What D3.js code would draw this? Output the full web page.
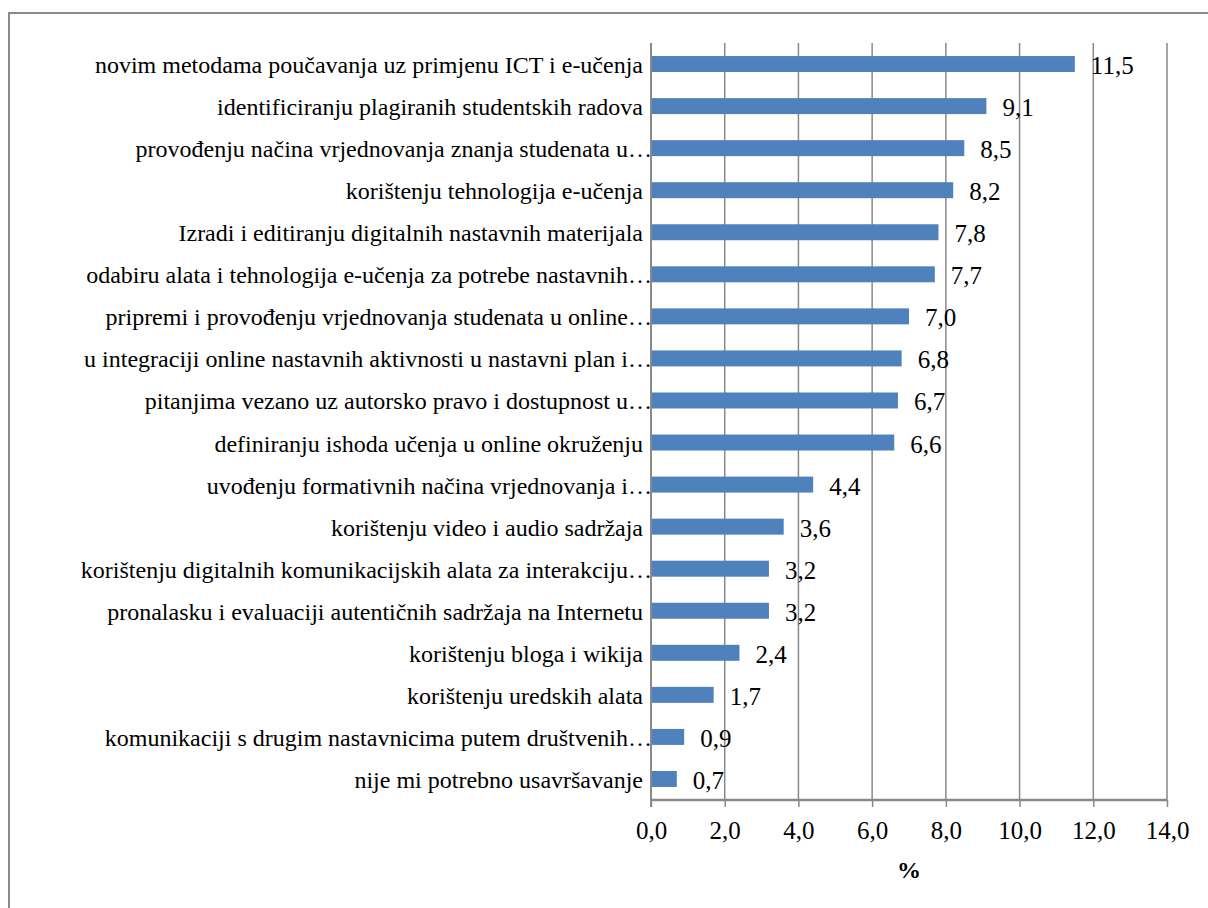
<!DOCTYPE html>
<html>
<head>
<meta charset="utf-8">
<script src="https://cdn.jsdelivr.net/npm/d3@7"></script>
<style>
  body { margin: 0; background: #fff; }
  #chart text { font-family: 'Liberation Serif' !important; }
</style>
</head>
<body>
<svg id="chart" width="1208" height="908"></svg>
<script>
// Areas in which teachers would like further training, % of responses
const categories = [
  "novim metodama poučavanja uz primjenu ICT i e-učenja",
  "identificiranju plagiranih studentskih radova",
  "provođenju načina vrjednovanja znanja studenata u…",
  "korištenju tehnologija e-učenja",
  "Izradi i editiranju digitalnih nastavnih materijala",
  "odabiru alata i tehnologija e-učenja za potrebe nastavnih…",
  "pripremi i provođenju vrjednovanja studenata u online…",
  "u integraciji online nastavnih aktivnosti u nastavni plan i…",
  "pitanjima vezano uz autorsko pravo i dostupnost u…",
  "definiranju ishoda učenja u online okruženju",
  "uvođenju formativnih načina vrjednovanja i…",
  "korištenju video i audio sadržaja",
  "korištenju digitalnih komunikacijskih alata za interakciju…",
  "pronalasku i evaluaciji autentičnih sadržaja na Internetu",
  "korištenju bloga i wikija",
  "korištenju uredskih alata",
  "komunikaciji s drugim nastavnicima putem društvenih…",
  "nije mi potrebno usavršavanje"
];
const values = [11.5, 9.1, 8.5, 8.2, 7.8, 7.7, 7.0, 6.8, 6.7, 6.6, 4.4, 3.6, 3.2, 3.2, 2.4, 1.7, 0.9, 0.7];
const xTicks = [0, 2, 4, 6, 8, 10, 12, 14];
const axisTitle = "%";

const serif = "'Liberation Serif'";
const svg = d3.select("#chart");
const plot = { left: 651, right: 1167, top: 43, bottom: 800 };
const gridColor = "#898989";
const barColor = "#4f81bd";
const fmt = v => d3.format(".1f")(v).replace(".", ",");

// outer frame (right and bottom edges run off the canvas)
svg.append("rect")
  .attr("x", 9).attr("y", 13)
  .attr("width", 1240).attr("height", 940)
  .attr("fill", "#fff")
  .attr("stroke", "#8b8b8b")
  .attr("stroke-width", 2);

const x = d3.scaleLinear().domain([0, 14]).range([plot.left, plot.right]);
const y = d3.scaleBand().domain(categories).range([plot.top, plot.bottom])
  .paddingInner(0.62).paddingOuter(0.31);

// vertical gridlines
svg.append("g").selectAll("line").data(xTicks.slice(1)).join("line")
  .attr("x1", d => x(d)).attr("x2", d => x(d))
  .attr("y1", plot.top).attr("y2", plot.bottom)
  .attr("stroke", gridColor).attr("stroke-width", 1.5);

// x axis
const xAxis = svg.append("g")
  .attr("transform", `translate(0,${plot.bottom})`)
  .call(d3.axisBottom(x).tickValues(xTicks).tickFormat(fmt).tickSize(7).tickPadding(14))
  .attr("font-family", "Liberation Serif")
  .attr("font-size", 25);
xAxis.select(".domain").attr("stroke", gridColor).attr("stroke-width", 2.5)
  .attr("d", `M${plot.left},0H${plot.right}`);
xAxis.selectAll(".tick line").attr("stroke", gridColor).attr("stroke-width", 1.5);
xAxis.selectAll(".tick text").attr("fill", "#000").style("font-family", serif);

// bars
svg.append("g").selectAll("rect").data(values).join("rect")
  .attr("x", x(0))
  .attr("y", (d, i) => y(categories[i]))
  .attr("width", d => x(d) - x(0))
  .attr("height", y.bandwidth())
  .attr("fill", barColor);

// value axis baseline on the left
svg.append("line")
  .attr("x1", x(0)).attr("x2", x(0))
  .attr("y1", plot.top).attr("y2", plot.bottom + 7)
  .attr("stroke", gridColor).attr("stroke-width", 2);

// category labels, right-aligned against the axis
svg.append("g").selectAll("text").data(categories).join("text")
  .attr("x", d => x(0) + (d.endsWith("…") ? 1 : -8))
  .attr("y", d => y(d) + y.bandwidth() / 2 + 9)
  .attr("text-anchor", "end")
  .attr("font-family", "Liberation Serif")
  .attr("font-size", 24)
  .style("font-family", serif)
  .text(d => d);

// value labels at the bar ends
svg.append("g").selectAll("text").data(values).join("text")
  .attr("x", d => x(d) + 16)
  .attr("y", (d, i) => y(categories[i]) + y.bandwidth() / 2 + 10)
  .attr("font-family", "Liberation Serif")
  .attr("font-size", 25)
  .style("font-family", serif)
  .text(d => fmt(d));

// axis title
svg.append("text")
  .attr("x", (plot.left + plot.right) / 2)
  .attr("y", 878)
  .attr("text-anchor", "middle")
  .attr("font-family", "Liberation Serif")
  .attr("font-size", 24)
  .attr("font-weight", "bold")
  .style("font-family", serif)
  .text(axisTitle);
</script>
</body>
</html>
